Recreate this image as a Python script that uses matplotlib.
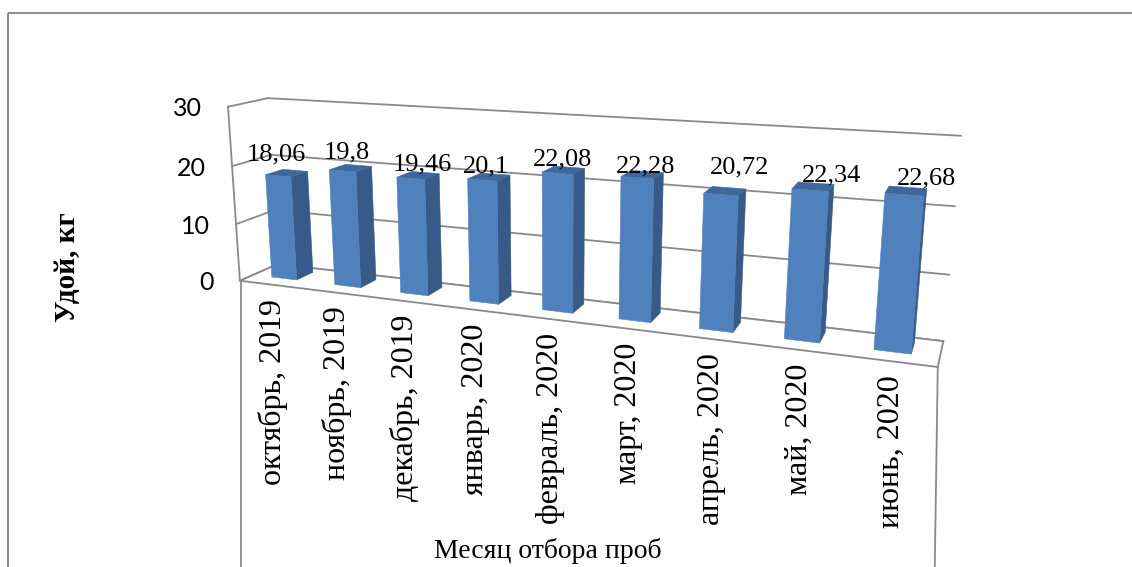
import numpy as np
import matplotlib
matplotlib.use("Agg")
import matplotlib.pyplot as plt
from matplotlib.patches import Polygon, Rectangle

# ---- data ---------------------------------------------------------------
months = ["октябрь, 2019", "ноябрь, 2019", "декабрь, 2019", "январь, 2020",
          "февраль, 2020", "март, 2020", "апрель, 2020", "май, 2020", "июнь, 2020"]
milk_yield = [18.06, 19.8, 19.46, 20.1, 22.08, 22.28, 20.72, 22.34, 22.68]
value_ticks = [0, 10, 20, 30]
y_title = "Удой, кг"
x_title = "Месяц отбора проб"

# label nudges (pixels) relative to the front-top centre of each column
label_dx = [-2, 4, 12, 4, 5, 8, 19, 21, 22]
label_dy = [-21, -18, -14, -14, -14, -11, -27, -15, -16]

# ---- page ---------------------------------------------------------------
W, H = 1132, 567
fig = plt.figure(figsize=(W / 100, H / 100), dpi=100)
ax = fig.add_axes([0, 0, 1, 1])
ax.set_xlim(0, W)
ax.set_ylim(H, 0)
ax.axis("off")

GRID = "#8a8a8a"
FRONT = "#4f81bd"
SIDE = "#375a88"
TOP = "#3e679c"
SERIF = "Liberation Serif"

n = len(months)
vmax = value_ticks[-1]

# ---- perspective camera -------------------------------------------------
# World space: x = category position (0..n), y = value, z = depth (0 front, 1 back).
# A 3x4 projective matrix is solved from where the chart box corners land on the page.
box_world = [(0, 0, 0), (0, 10, 0), (0, 20, 0), (0, 30, 0),
             (0, 0, 1), (0, 10, 1), (0, 20, 1), (0, 30, 1),
             (n, 0, 1), (n, 10, 1), (n, 20, 1), (n, 30, 1),
             (n, 0, 0), (n, 30, 0)]
box_page = [(240, 281), (236, 224), (232, 166), (228, 107),
            (278, 264), (274, 210), (271, 155), (268, 98),
            (943, 341), (949, 275), (955, 206), (961, 136),
            (938, 367), (956, 149)]

rows = []
for (X, Y, Z), (u, v) in zip(box_world, box_page):
    p = [X / n, Y / vmax, Z, 1.0]
    u, v = u / 1000.0, v / 1000.0
    rows.append(p + [0, 0, 0, 0] + [-u * c for c in p])
    rows.append([0, 0, 0, 0] + p + [-v * c for c in p])
_, _, vt = np.linalg.svd(np.array(rows))
P = vt[-1].reshape(3, 4)


def proj(X, Y, Z):
    h = P @ np.array([X / n, Y / vmax, Z, 1.0])
    return 1000.0 * h[0] / h[2], 1000.0 * h[1] / h[2]


def line3d(a, b, **kw):
    (x0, y0), (x1, y1) = proj(*a), proj(*b)
    ax.plot([x0, x1], [y0, y1], **kw)


def face(pts, color, z):
    ax.add_patch(Polygon([proj(*p) for p in pts], closed=True, facecolor=color,
                         edgecolor=color, linewidth=0.4, zorder=z))


# ---- outer frame --------------------------------------------------------
ax.add_patch(Rectangle((8, 13), W, H, fill=False, edgecolor="#8c8c8c", linewidth=1.4))

# ---- walls, floor, gridlines -------------------------------------------
for t in value_ticks:
    line3d((0, t, 0), (0, t, 1), color=GRID, lw=1.3, zorder=1)
    line3d((0, t, 1), (n, t, 1), color=GRID, lw=1.3, zorder=1)
line3d((0, 0, 0), (0, vmax, 0), color=GRID, lw=1.3, zorder=1)
ax.add_patch(Polygon([proj(0, 0, 0), proj(n, 0, 0), proj(n, 0, 1), proj(0, 0, 1)],
                     closed=True, facecolor="white", edgecolor=GRID, linewidth=1.3, zorder=1))

# plot-area side borders below the floor
xl, yl = proj(0, 0, 0)
xr, yr = proj(n, 0, 0)
ax.plot([xl + 1, xl + 1], [yl, H], color=GRID, lw=1.3, zorder=1)
ax.plot([xr, xr - 3], [yr, H], color=GRID, lw=1.3, zorder=1)

# ---- value axis labels --------------------------------------------------
for t in value_ticks:
    x, y = proj(0, t, 0)
    ax.text(x - 26, y + 2, str(t), ha="right", va="center", fontsize=18,
            family="Lato", color="black")

# ---- columns ------------------------------------------------------------
bw0, bw1 = 0.3, 0.7    # column span inside a category (gap width 150%)
bd0, bd1 = 0.35, 0.80  # column span in depth
for i, val in enumerate(milk_yield):
    a, b = i + bw0, i + bw1
    face([(b, 0, bd0), (b, 0, bd1), (b, val, bd1), (b, val, bd0)], SIDE, 3)
    face([(a, val, bd0), (b, val, bd0), (b, val, bd1), (a, val, bd1)], TOP, 3)
    face([(a, 0, bd0), (b, 0, bd0), (b, val, bd0), (a, val, bd0)], FRONT, 4)

    # value label
    lx, ly = proj(i + 0.5, val, bd0)
    ax.text(lx + label_dx[i], ly + label_dy[i], f"{val:g}".replace(".", ","),
            ha="center", va="center", fontsize=19, family=SERIF, color="black", zorder=6)

    # category label
    cx, cy = proj(i + 0.5, 0, 0)
    ax.text(cx + 2, cy + 14, months[i], rotation=90, ha="center", va="top",
            fontsize=23, family=SERIF, color="black")

# ---- axis titles --------------------------------------------------------
ax.text(67, 267, y_title, rotation=90, ha="center", va="center", fontsize=21,
        family=SERIF, fontweight="bold")
ax.text(548, 551, x_title, ha="center", va="center", fontsize=20, family=SERIF)

fig.savefig("out.png", dpi=100)
